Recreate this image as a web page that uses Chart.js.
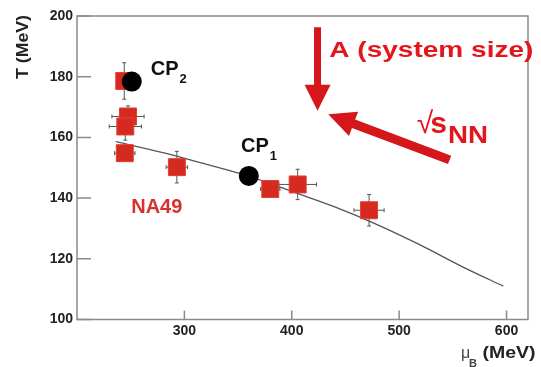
<!DOCTYPE html>
<html>
<head>
<meta charset="utf-8">
<title>Freeze-out points and critical point</title>
<script src="https://cdn.jsdelivr.net/npm/chart.js@4/dist/chart.umd.min.js"></script>
<style>
  html, body { margin: 0; padding: 0; background: #fff; }
  #wrap { width: 541px; height: 367px; position: relative; }
</style>
</head>
<body>
<div id="wrap"><canvas id="phaseChart"></canvas></div>
<script>
// NA49 chemical freeze-out points (MeV)
const na49Mu   = [244, 247.5, 245, 244.5, 293, 380, 405.5, 472];
const na49T    = [178.6, 166.9, 163.6, 154.8, 150.2, 143, 144.5, 136];
const na49MuErr = [0, 15, 15, 9.5, 10, 9, 17.5, 14];
const na49TErr  = [6, 3.5, 4.5, 2, 5.2, 2.5, 5, 5.2];

// freeze-out curve
const curveMu = [236, 280, 320, 360, 400, 440, 480, 520, 560, 597];
const curveT  = [158.6, 155, 151.2, 147.2, 142.2, 137.1, 131.2, 124.5, 117.2, 111];

// critical point candidates
const cpMu = [251, 360];
const cpT  = [178.4, 147.3];
const cpIndex = ['2', '1'];

const xTicks = [300, 400, 500, 600];
const yTicks = [100, 120, 140, 160, 180, 200];

const FONT = 'Liberation Sans, Arial, Helvetica, sans-serif';
const RED_TEXT = '#e3161c';
const RED_ARROW = '#d5171c';
const AXIS_GRAY = '#8a8a8a';

// where the CP labels sit, in axis units
const cpLabelAt = [{ x: 268.7, y: 180.6 }, { x: 352.8, y: 155.3 }];

const toPoints = (xs, ys) => xs.map((x, i) => ({ x: x, y: ys[i] }));

// draws str with its left edge at x, optionally stretched to a given width
function putText(ctx, str, x, y, font, color, width) {
    ctx.save();
    ctx.font = font;
    const w = ctx.measureText(str).width;
    const k = width ? width / w : 1;
    ctx.translate(x, y);
    ctx.scale(k, 1);
    ctx.fillStyle = color;
    ctx.textAlign = 'left';
    ctx.textBaseline = 'alphabetic';
    ctx.fillText(str, 0, 0);
    ctx.restore();
    return w * k;
}

function arrow(ctx, x0, y0, x1, y1, shaftW, headLen, headW, color) {
    const dx = x1 - x0, dy = y1 - y0;
    const len = Math.hypot(dx, dy);
    const ux = dx / len, uy = dy / len;
    const nx = -uy, ny = ux;
    const bx = x1 - ux * headLen, by = y1 - uy * headLen;
    ctx.save();
    ctx.fillStyle = color;
    ctx.beginPath();
    ctx.moveTo(x0 + nx * shaftW / 2, y0 + ny * shaftW / 2);
    ctx.lineTo(bx + nx * shaftW / 2, by + ny * shaftW / 2);
    ctx.lineTo(bx + nx * headW / 2, by + ny * headW / 2);
    ctx.lineTo(x1, y1);
    ctx.lineTo(bx - nx * headW / 2, by - ny * headW / 2);
    ctx.lineTo(bx - nx * shaftW / 2, by - ny * shaftW / 2);
    ctx.lineTo(x0 - nx * shaftW / 2, y0 - ny * shaftW / 2);
    ctx.closePath();
    ctx.fill();
    ctx.restore();
}

const overlay = {
    id: 'overlay',
    beforeDatasetsDraw(chart) {
        // error bars with small end caps
        const { ctx, scales: { x, y } } = chart;
        ctx.save();
        ctx.strokeStyle = '#555';
        ctx.lineWidth = 1;
        na49Mu.forEach((mu, i) => {
            const px = x.getPixelForValue(mu), py = y.getPixelForValue(na49T[i]);
            const ex = na49MuErr[i], ey = na49TErr[i];
            ctx.beginPath();
            if (ex > 0) {
                const l = x.getPixelForValue(mu - ex), r = x.getPixelForValue(mu + ex);
                ctx.moveTo(l, py); ctx.lineTo(r, py);
                ctx.moveTo(l, py - 2); ctx.lineTo(l, py + 2);
                ctx.moveTo(r, py - 2); ctx.lineTo(r, py + 2);
            }
            if (ey > 0) {
                const t = y.getPixelForValue(na49T[i] + ey), b = y.getPixelForValue(na49T[i] - ey);
                ctx.moveTo(px, t); ctx.lineTo(px, b);
                ctx.moveTo(px - 2, t); ctx.lineTo(px + 2, t);
                ctx.moveTo(px - 2, b); ctx.lineTo(px + 2, b);
            }
            ctx.stroke();
        });
        ctx.restore();
    },
    afterDraw(chart) {
        const { ctx, chartArea: a, scales: { x, y } } = chart;

        // frame and inward ticks
        ctx.save();
        ctx.strokeStyle = AXIS_GRAY;
        ctx.lineWidth = 1.5;
        ctx.strokeRect(a.left, a.top, a.right - a.left, a.bottom - a.top);
        ctx.beginPath();
        yTicks.forEach(v => {
            const py = y.getPixelForValue(v);
            ctx.moveTo(a.left, py); ctx.lineTo(a.left + 14, py);
        });
        xTicks.forEach(v => {
            const px = x.getPixelForValue(v);
            ctx.moveTo(px, a.bottom); ctx.lineTo(px, a.bottom - 9);
        });
        ctx.stroke();
        ctx.restore();

        // axis titles
        ctx.save();
        ctx.translate(24, 47);
        ctx.rotate(-Math.PI / 2);
        ctx.font = 'bold 16px ' + FONT;
        const tw = ctx.measureText('T (MeV)').width;
        ctx.scale(64 / tw, 1);
        ctx.fillStyle = '#222';
        ctx.textAlign = 'center';
        ctx.textBaseline = 'middle';
        ctx.fillText('T (MeV)', 0, 0);
        ctx.restore();

        putText(ctx, '\u03bc', 461, 358, '16px ' + FONT, '#444');
        putText(ctx, 'B', 469, 367, 'bold 11px ' + FONT, '#444');
        putText(ctx, '(MeV)', 482.5, 358, 'bold 16px ' + FONT, '#222', 53);

        // point labels
        const X = v => x.getPixelForValue(v), Y = v => y.getPixelForValue(v);
        cpLabelAt.forEach((p, i) => {
            const w = putText(ctx, 'CP', X(p.x), Y(p.y), 'bold 20px ' + FONT, '#111');
            putText(ctx, cpIndex[i], X(p.x) + w + 1, Y(p.y) + 8, 'bold 13px ' + FONT, '#111');
        });
        putText(ctx, 'NA49', X(250.5), Y(135.1), 'bold 20px ' + FONT, '#d8302a');

        // arrows: system size and collision energy
        arrow(ctx, X(424), Y(196.3), X(424), Y(168.8), 7, 26, 26, RED_ARROW);
        arrow(ctx, X(547), Y(152.6), X(434), Y(167.6), 9, 27, 26, RED_ARROW);

        putText(ctx, 'A (system size)', X(435), Y(186.6), 'bold 22px ' + FONT, RED_TEXT, 204);
        putText(ctx, '\u221a', X(516.5), Y(161.3), '30px ' + FONT, RED_TEXT);
        putText(ctx, 's', X(529), Y(161.3), 'bold 30px ' + FONT, RED_TEXT);
        putText(ctx, 'NN', X(545.5), Y(158), 'bold 23px ' + FONT, RED_TEXT, 40);
    }
};

const tickFont = { family: FONT, size: 14, weight: 'bold' };

new Chart(document.getElementById('phaseChart'), {
    type: 'scatter',
    data: {
        datasets: [
            {
                label: 'CP',
                data: toPoints(cpMu, cpT),
                pointStyle: 'circle',
                pointRadius: 10,
                backgroundColor: '#000',
                borderColor: '#000',
                borderWidth: 0
            },
            {
                label: 'NA49',
                data: toPoints(na49Mu, na49T),
                pointStyle: 'rect',
                pointRadius: 12,
                backgroundColor: '#d62a20',
                borderColor: '#de4236',
                borderWidth: 1
            },
            {
                label: 'freeze-out curve',
                data: toPoints(curveMu, curveT),
                showLine: true,
                pointRadius: 0,
                borderColor: '#555',
                borderWidth: 1.3,
                tension: 0.3
            }
        ]
    },
    options: {
        responsive: true,
        maintainAspectRatio: false,
        animation: false,
        layout: { padding: { top: 16, right: 7, left: 0, bottom: 0 } },
        plugins: {
            legend: { display: false },
            tooltip: { enabled: false }
        },
        scales: {
            x: {
                type: 'linear',
                min: 200,
                max: 620,
                grid: { display: false, drawTicks: false },
                border: { display: false },
                afterBuildTicks: s => { s.ticks = xTicks.map(v => ({ value: v })); },
                afterFit: s => { s.height = 47.5; },
                ticks: { font: tickFont, color: '#222', padding: 3 }
            },
            y: {
                type: 'linear',
                min: 100,
                max: 200,
                grid: { display: false, drawTicks: false },
                border: { display: false },
                afterBuildTicks: s => { s.ticks = yTicks.map(v => ({ value: v })); },
                afterFit: s => { s.width = 77; },
                ticks: { font: tickFont, color: '#222', padding: 4 }
            }
        }
    },
    plugins: [overlay]
});
</script>
</body>
</html>
